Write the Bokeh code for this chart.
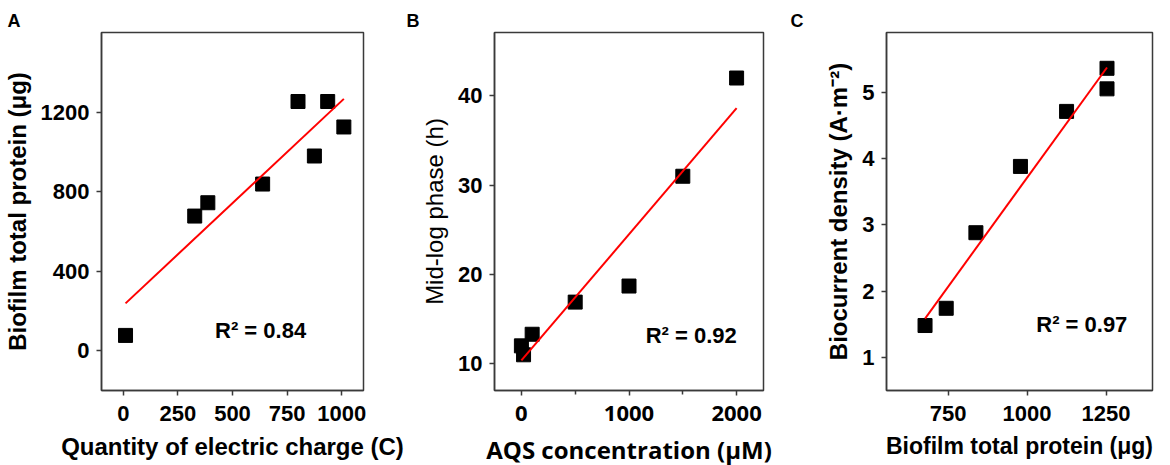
import numpy as np
from bokeh.plotting import figure
from bokeh.layouts import row
from bokeh.models import Label, Range1d, FixedTicker
from bokeh.embed import file_html
from bokeh.resources import INLINE

# ---------------- data ----------------
# Panel A: quantity of electric charge (C) vs biofilm total protein (ug)
charge_c = [10, 327, 387, 638, 800, 875, 936, 1010]
protein_a_ug = [77, 677, 744, 838, 1253, 979, 1253, 1125]

# Panel B: AQS concentration (uM) vs mid-log phase (h)
aqs_um = [0, 20, 100, 500, 1000, 1500, 2000]
midlog_h = [12.0, 11.0, 13.3, 16.9, 18.7, 31.0, 42.0]

# Panel C: biofilm total protein (ug) vs biocurrent density (A m-2)
protein_c_ug = [677, 744, 838, 979, 1125, 1253, 1253]
current_density = [1.48, 1.74, 2.88, 3.88, 4.71, 5.36, 5.05]

r2_texts = ["R\u00b2 = 0.84", "R\u00b2 = 0.92", "R\u00b2 = 0.97"]
panel_letters = ["A", "B", "C"]
x_titles = ["Quantity of electric charge (C)", "AQS concentration (\u03bcM)", "Biofilm total protein (\u03bcg)"]
y_titles = ["Biofilm total protein (\u03bcg)", "Mid-log phase (h)", "Biocurrent density (A\u00b7m\u207b\u00b2)"]

a_xticks = [0, 250, 500, 750, 1000]
a_yticks = [0, 400, 800, 1200]
b_xticks = [0, 1000, 2000]
b_xminor = [500, 1500]
b_yticks = [10, 20, 30, 40]
c_xticks = [750, 1000, 1250]
c_yticks = [1, 2, 3, 4, 5]

FONT = "Liberation Sans"
LINE_COL = "#3a3a3a"
H = 468
BT = 32
BB = 77


def make_panel(x, y, xr, yr, xt, yt, xminor, width, bl, br, letter, xtitle, ytitle,
               r2, r2_pos, xfont=FONT, ytitle_style="bold", xtitle_size="24px"):
    p = figure(width=width, height=H, x_range=Range1d(*xr), y_range=Range1d(*yr),
               output_backend="svg", toolbar_location=None,
               min_border_left=bl, min_border_right=br, min_border_top=BT, min_border_bottom=BB)
    p.grid.visible = False
    p.outline_line_color = LINE_COL
    p.outline_line_width = 1.5
    p.outline_line_alpha = 1.0
    p.background_fill_color = "white"
    p.border_fill_color = "white"

    # panel letter as the figure title, pushed to the canvas' left edge
    p.title.text = letter
    p.title.align = "left"
    p.title.offset = -(bl - 1)
    p.title.standoff = 0
    p.title.vertical_align = "top"
    p.title.text_font = FONT
    p.title.text_font_style = "bold"
    p.title.text_font_size = "18px"
    p.title.text_color = "black"

    p.xaxis.ticker = FixedTicker(ticks=xt, minor_ticks=xminor)
    p.yaxis.ticker = FixedTicker(ticks=yt, minor_ticks=[])
    for ax in [p.xaxis[0], p.yaxis[0]]:
        ax.axis_line_color = LINE_COL
        ax.axis_line_width = 1.5
        ax.major_tick_line_color = LINE_COL
        ax.major_tick_line_width = 1.5
        ax.minor_tick_line_color = LINE_COL
        ax.minor_tick_line_width = 1.5
        ax.major_tick_out = 5
        ax.major_tick_in = 0
        ax.minor_tick_out = 4
        ax.minor_tick_in = 0
        ax.major_label_text_font_size = "22px"
        ax.major_label_text_font_style = "bold"
        ax.major_label_text_color = "black"
        ax.axis_label_text_font_size = "24px"
        ax.axis_label_text_color = "black"
    p.xaxis.major_label_standoff = 10
    p.xaxis.axis_label_standoff = 9
    p.yaxis.major_label_standoff = 7
    p.yaxis.axis_label_standoff = 7
    p.xaxis.major_label_text_font = xfont
    p.xaxis.axis_label_text_font = xfont
    p.xaxis.axis_label_text_font_style = "bold"
    p.xaxis.axis_label_text_font_size = xtitle_size
    p.yaxis.major_label_text_font = FONT
    p.yaxis.axis_label_text_font = FONT
    p.yaxis.axis_label_text_font_style = ytitle_style
    p.xaxis.axis_label = xtitle
    p.yaxis.axis_label = ytitle

    p.scatter(x, y, marker="square", size=14, color="black")
    k, b = np.polyfit(np.array(x, float), np.array(y, float), 1)
    xs = np.array([min(x), max(x)], float)
    p.line(xs, k * xs + b, line_color="#ff0000", line_width=2)

    p.add_layout(Label(x=r2_pos[0], y=r2_pos[1], text=r2, text_font=FONT,
                       text_font_style="bold", text_font_size="22px",
                       text_baseline="middle", text_color="black"))
    return p


pA = make_panel(charge_c, protein_a_ug, (-100, 1100), (-200, 1600), a_xticks, a_yticks, [],
                405, 95, 42, panel_letters[0], x_titles[0], y_titles[0], r2_texts[0], (420, 100))
pB = make_panel(aqs_um, midlog_h, (-250, 2250), (7, 47.1), b_xticks, b_yticks, b_xminor,
                384, 89, 26, panel_letters[1], x_titles[1], y_titles[1], r2_texts[1], (1155, 13.2),
                xfont="Open Sans", ytitle_style="normal")
pC = make_panel(protein_c_ug, current_density, (555, 1397), (0.5, 5.9), c_xticks, c_yticks, [],
                365, 97, 2, panel_letters[2], x_titles[2], y_titles[2], r2_texts[2], (1029, 1.5),
                xtitle_size="23px")

layout = row(pA, pB, pC, spacing=0)
open("out.html", "w").write(file_html(layout, INLINE))
